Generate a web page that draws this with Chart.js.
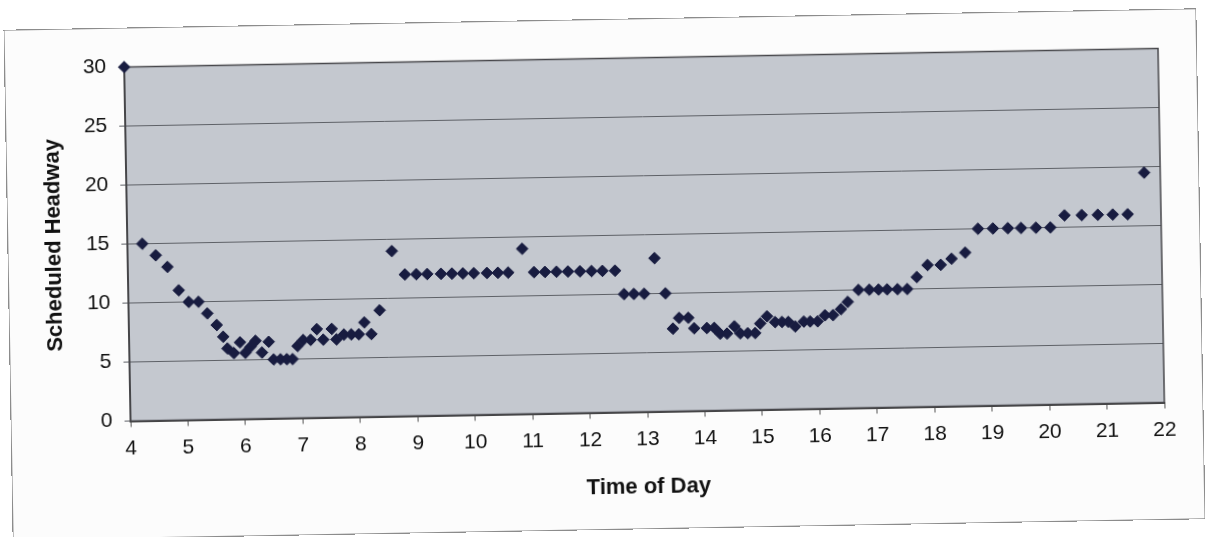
<!DOCTYPE html>
<html>
<head>
<meta charset="utf-8">
<title>Scheduled Headway by Time of Day</title>
<script src="https://cdn.jsdelivr.net/npm/chart.js@4.4.0/dist/chart.umd.min.js"></script>
<style>
  html, body { margin: 0; padding: 0; background: #ffffff; }
  body { width: 1207px; height: 537px; overflow: hidden; position: relative; }
  #frame {
    position: absolute; left: 9px; top: 20px; width: 1191px; height: 509px;
    background: #fcfcfc; outline: 1px solid #8c8c8c;
    /* the printed sheet sits a little crooked */
    transform-origin: 594px 255px; transform: rotate(-1.03deg);
  }
  #frame canvas { display: block; }
</style>
</head>
<body>
<div id="frame"><canvas id="headwayChart" width="1191" height="509"></canvas></div>
<script>
// departure time (decimal hours) and scheduled headway (minutes)
const timeOfDay = [
  4.00, 4.26, 4.49, 4.69, 4.88, 5.05, 5.22, 5.37, 5.53, 5.64,
  5.71, 5.82, 5.93, 6.02, 6.11, 6.20, 6.31, 6.43, 6.51, 6.63,
  6.74, 6.84, 6.93, 7.03, 7.16, 7.27, 7.38, 7.53, 7.61, 7.74,
  7.87, 8.00, 8.10, 8.22, 8.37, 8.60, 8.82, 9.02, 9.21, 9.45,
  9.64, 9.83, 10.02, 10.25, 10.44, 10.62, 10.87, 11.07, 11.26, 11.46,
  11.66, 11.87, 12.07, 12.26, 12.48, 12.63, 12.80, 12.98, 13.17, 13.35,
  13.47, 13.58, 13.74, 13.84, 14.06, 14.19, 14.29, 14.41, 14.54, 14.64,
  14.77, 14.90, 14.99, 15.11, 15.25, 15.37, 15.48, 15.60, 15.75, 15.86,
  15.99, 16.12, 16.26, 16.40, 16.52, 16.71, 16.90, 17.06, 17.21, 17.39,
  17.56, 17.73, 17.92, 18.15, 18.34, 18.58, 18.81, 19.07, 19.33, 19.56,
  19.82, 20.07, 20.32, 20.62, 20.90, 21.16, 21.42, 21.72
];
const headway = [
  30, 15, 14, 13, 11, 10, 10, 9, 8, 7,
  6, 5.6, 6.5, 5.6, 6.1, 6.6, 5.6, 6.5, 5, 5,
  5, 5, 6.1, 6.6, 6.6, 7.5, 6.6, 7.5, 6.6, 7,
  7, 7, 8, 7, 9, 14, 12, 12, 12, 12,
  12, 12, 12, 12, 12, 12, 14, 12, 12, 12,
  12, 12, 12, 12, 12, 10, 10, 10, 13, 10,
  7, 7.9, 7.9, 7, 7, 7, 6.5, 6.5, 7.1, 6.5,
  6.5, 6.5, 7.3, 7.9, 7.4, 7.4, 7.4, 7, 7.4, 7.4,
  7.4, 7.9, 7.9, 8.4, 9, 10, 10, 10, 10, 10,
  10, 11, 12, 12, 12.5, 13, 15, 15, 15, 15,
  15, 15, 16, 16, 16, 16, 16, 19.5
];

const xRange = [4, 22];
const yRange = [0, 30];

const points = timeOfDay.map((t, i) => ({ x: t, y: headway[i] }));

const fontFamily = "'Liberation Sans', Arial, sans-serif";
const inkColor = '#111111';

// grey plot fill behind the data, dark frame around it
const plotFrame = {
  id: 'plotFrame',
  beforeDraw(chart) {
    const { ctx, chartArea: a } = chart;
    ctx.save();
    ctx.fillStyle = '#c4c8cf';
    ctx.fillRect(a.left, a.top, a.right - a.left, a.bottom - a.top);
    ctx.restore();
  },
  beforeDatasetsDraw(chart) {
    const { ctx, chartArea: a } = chart;
    ctx.save();
    ctx.strokeStyle = '#47474b';
    ctx.lineWidth = 1.5;
    ctx.strokeRect(a.left, a.top, a.right - a.left, a.bottom - a.top);
    ctx.restore();
  }
};

new Chart(document.getElementById('headwayChart'), {
  type: 'scatter',
  data: {
    datasets: [{
      label: 'Scheduled Headway',
      data: points,
      pointStyle: 'rectRot',
      pointRadius: 5.8,
      pointBorderWidth: 1,
      backgroundColor: '#181c40',
      borderColor: '#181c40',
      clip: false
    }]
  },
  options: {
    responsive: false,
    animation: false,
    layout: { padding: { left: 0, top: 38.5, right: 38, bottom: 24 } },
    plugins: {
      legend: { display: false },
      tooltip: { enabled: false }
    },
    scales: {
      x: {
        type: 'linear',
        min: xRange[0],
        max: xRange[1],
        ticks: {
          stepSize: 1,
          padding: 9,
          color: inkColor,
          font: { family: fontFamily, size: 21 }
        },
        grid: { drawOnChartArea: false, tickLength: 6, color: '#555' },
        border: { color: '#444', width: 2 },
        title: {
          display: true,
          text: 'Time of Day',
          color: inkColor,
          font: { family: fontFamily, size: 22, weight: 'bold' },
          padding: { top: 0, bottom: 4 }
        },
        afterFit(scale) { scale.height = 92.5; }
      },
      y: {
        min: yRange[0],
        max: yRange[1],
        ticks: {
          stepSize: 5,
          padding: 12,
          color: inkColor,
          font: { family: fontFamily, size: 21 }
        },
        grid: { color: '#5e6167', lineWidth: 1, tickLength: 6 },
        border: { color: '#444', width: 2 },
        title: {
          display: true,
          text: 'Scheduled Headway',
          color: inkColor,
          font: { family: fontFamily, size: 22, weight: 'bold' },
          padding: { top: 33, bottom: 0 }
        },
        afterFit(scale) { scale.width = 119; }
      }
    }
  },
  plugins: [plotFrame]
});
</script>
</body>
</html>
